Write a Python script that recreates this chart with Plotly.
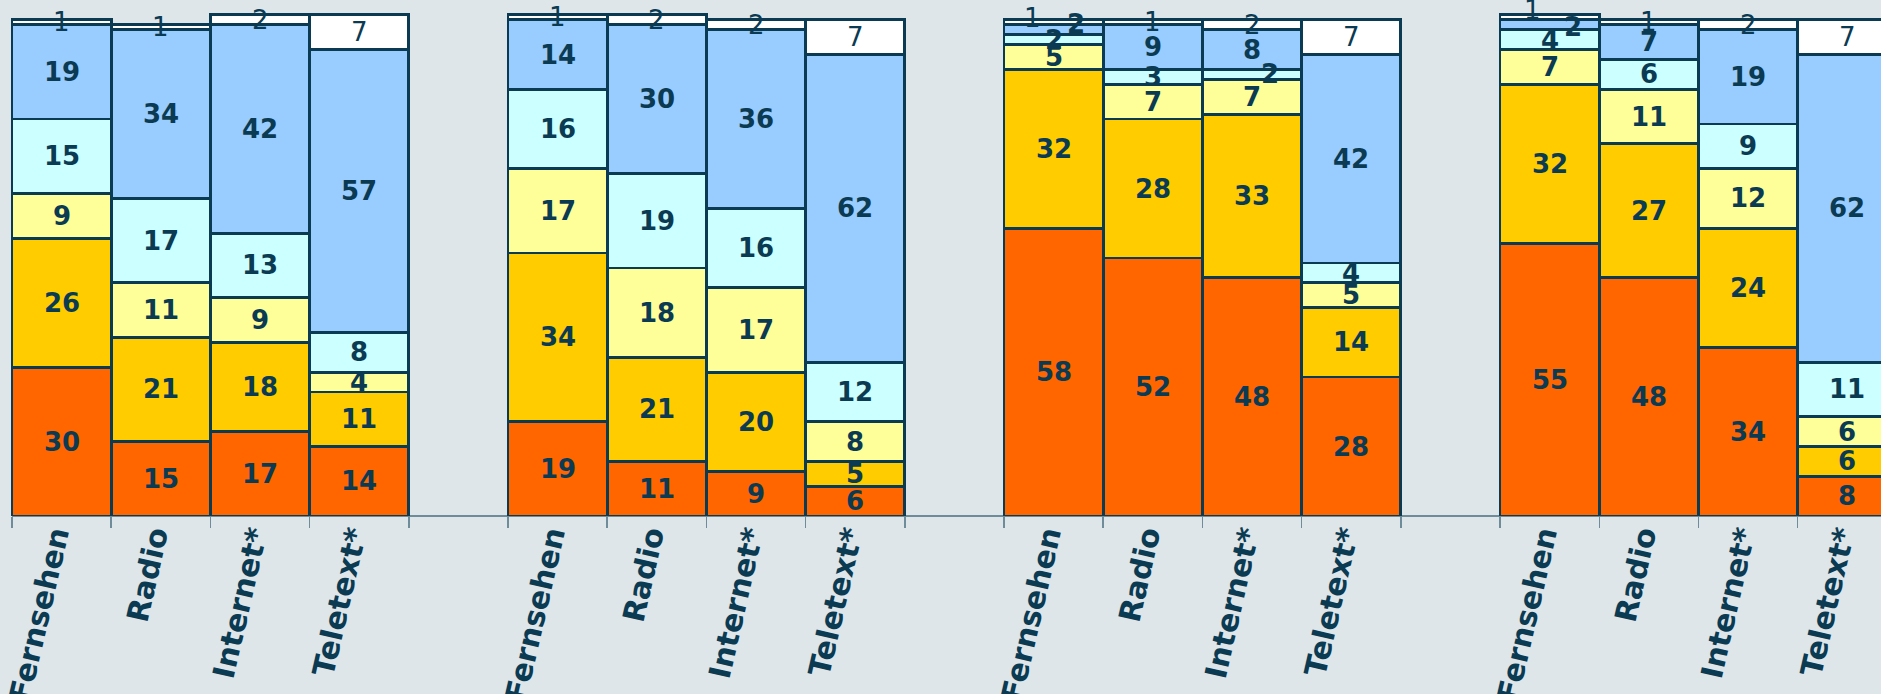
import plotly.graph_objects as go

# ---------------- data ----------------
categories = ["Fernsehen", "Radio", "Internet*", "Teletext*"]
series_names = ["Stufe 1", "Stufe 2", "Stufe 3", "Stufe 4", "Stufe 5", "Stufe 6"]

# values per group: one list per series (bottom to top), one value per category
group1 = [
    [30, 15, 17, 14],
    [26, 21, 18, 11],
    [9, 11, 9, 4],
    [15, 17, 13, 8],
    [19, 34, 42, 57],
    [1, 1, 2, 7],
]
group2 = [
    [19, 11, 9, 6],
    [34, 21, 20, 5],
    [17, 18, 17, 8],
    [16, 19, 16, 12],
    [14, 30, 36, 62],
    [1, 2, 2, 7],
]
group3 = [
    [58, 52, 48, 28],
    [32, 28, 33, 14],
    [5, 7, 7, 5],
    [2, 3, 2, 4],
    [2, 9, 8, 42],
    [1, 1, 2, 7],
]
group4 = [
    [55, 48, 34, 8],
    [32, 27, 24, 6],
    [7, 11, 12, 6],
    [4, 6, 9, 11],
    [2, 7, 19, 62],
    [1, 1, 2, 7],
]
groups = [group1, group2, group3, group4]

# ---------------- style ----------------
colors = ["#FF6600", "#FFCC00", "#FFFF99", "#CCFFFF", "#99CCFF", "#FFFFFF"]
navy = "#0B3A53"
bg = "#DEE6E9"
axis_col = "#6F8C9B"
slots_per_group = 5  # 4 bars + 1 empty slot
x_range = [-0.621, 18.34]
label_tick_shift = -0.07  # nudge of the rotated category labels (in slot units)
# manual label nudges (pixels) for crowded small segments: (group, category, series) -> (dx, dy)
label_nudge = {
    (2, 0, 5): (-21, 4),
    (2, 0, 4): (22, 6),
    (2, 2, 3): (18, 0),
    (3, 0, 5): (-17, 7),
    (3, 0, 4): (23, -2),
}

fig = go.Figure()
annotations = []

for s, name in enumerate(series_names):
    xs, ys = [], []
    for g, grp in enumerate(groups):
        for c in range(len(categories)):
            xs.append(g * slots_per_group + c)
            ys.append(grp[s][c])
    fig.add_trace(go.Bar(
        x=xs, y=ys, name=name,
        marker=dict(color=colors[s], line=dict(color=navy, width=2.8)),
        width=1.0, showlegend=False, hoverinfo="skip",
    ))

# labels centred in each segment
for g, grp in enumerate(groups):
    for c in range(len(categories)):
        base = 0
        for s in range(len(series_names)):
            v = grp[s][c]
            mid = base + v / 2
            base += v
            dx, dy = label_nudge.get((g, c, s), (0, 0))
            annotations.append(dict(
                x=g * slots_per_group + c, y=mid, xref="x", yref="y",
                text=str(v), showarrow=False, xshift=dx, yshift=dy,
                yanchor="middle", xanchor="center",
                font=dict(family="DejaVu Sans", size=26, color=navy,
                          weight="normal" if s == 5 else "bold"),
            ))

tickvals = [g * slots_per_group + c + label_tick_shift
            for g in range(len(groups)) for c in range(len(categories))]
ticktext = [categories[c] for g in range(len(groups)) for c in range(len(categories))]
boundaries = [k - 0.5 for k in range(len(groups) * slots_per_group + 1)]

# axis base line starting at the left edge of the first bar
fig.add_shape(type="line", xref="x", yref="paper", x0=-0.5, x1=x_range[1], y0=0, y1=0,
              line=dict(color=axis_col, width=2), layer="below")

fig.update_layout(
    width=1881, height=694,
    margin=dict(l=0, r=0, t=0, b=178, autoexpand=False),
    paper_bgcolor=bg, plot_bgcolor=bg,
    barmode="stack", bargap=0,
    annotations=annotations,
    xaxis=dict(
        range=x_range, showgrid=False, zeroline=False, showline=False,
        tickvals=tickvals, ticktext=ticktext, ticks="",
        tickangle=-77, automargin=False, layer="below traces",
        ticklabelstandoff=-5, ticklabeloverflow="allow",
        tickfont=dict(family="DejaVu Sans", size=30, color=navy, weight="bold"),
        minor=dict(tickvals=boundaries, ticks="outside", ticklen=11,
                   tickcolor=axis_col, tickwidth=1.5),
    ),
    yaxis=dict(range=[0, 104], visible=False, showgrid=False, zeroline=False),
)

fig.write_html(
    "out.html",
    config={"displayModeBar": False, "staticPlot": True},
    post_script="document.body.style.margin='0';document.body.style.background='%s';" % bg,
)
